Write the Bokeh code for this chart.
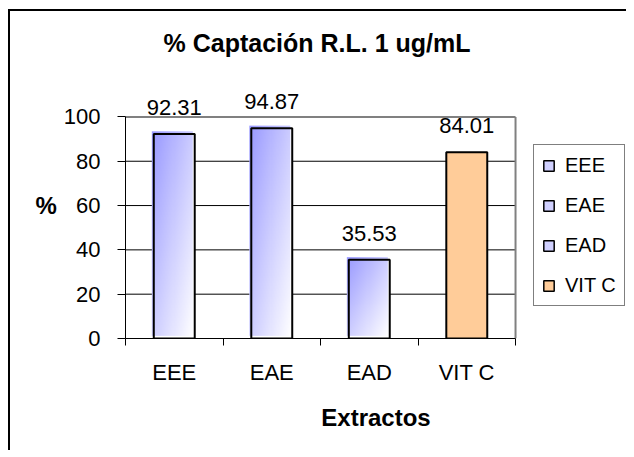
import numpy as np
from bokeh.plotting import figure
from bokeh.models import (ColumnDataSource, Range1d, FixedTicker, LabelSet,
                          Legend, LegendItem)
from bokeh.core.properties import value
from bokeh.embed import file_html
from bokeh.resources import INLINE

# ---------------- data ----------------
categories = ["EEE", "EAE", "EAD", "VIT C"]
values = [92.31, 94.87, 35.53, 84.01]
value_labels = ["92.31", "94.87", "35.53", "84.01"]
y_ticks = [0, 20, 40, 60, 80, 100]
grid_levels = [20, 40, 60, 80]
title_text = "% Captación R.L.  1 ug/mL"
x_title = "Extractos"
y_title = "%"
solid_series = ["VIT C"]

# ---------------- style ----------------
FONT = "Liberation Sans"
BAR_W = 0.42
SHIFT_X = 0.02     # gradient fill shifted left (~2px)
SHIFT_Y = 1.2      # gradient fill shifted up (~3px)
ORANGE = "#FFCC99"
LIGHT_BLUE = "#D0D0FF"
GRAY = "#808080"
X_VIEW_RIGHT = 5.138   # extra room right of the plot area for the legend
Y_VIEW_TOP = 120.5     # headroom above the plot area for the value labels

n = len(categories)
y_top = y_ticks[-1]
centers = [i + 0.5 for i in range(n)]
grad_idx = [i for i, c in enumerate(categories) if c not in solid_series]
solid_idx = [i for i, c in enumerate(categories) if c in solid_series]

p = figure(frame_width=501, frame_height=267,
           x_range=Range1d(0, X_VIEW_RIGHT), y_range=Range1d(0, Y_VIEW_TOP),
           output_backend="svg", toolbar_location=None,
           min_border_left=115, min_border_right=0,
           min_border_top=60, min_border_bottom=112,
           background_fill_color="white", border_fill_color="white")
p.styles = {"margin-left": "8px", "margin-top": "9px",
            "border-top": "2px solid black", "border-left": "2px solid black"}

# title
p.title.text = title_text
p.title.align = "left"
p.title.offset = 38
p.title.standoff = 30
p.title.text_font = FONT
p.title.text_font_size = "25px"
p.title.text_font_style = "bold"
p.title.text_color = "black"

# frame / grid: drawn only over the plot area (0..n, 0..100)
p.outline_line_color = None
p.xgrid.visible = False
p.ygrid.visible = False
p.segment(x0=[0] * len(grid_levels), y0=grid_levels,
          x1=[n] * len(grid_levels), y1=grid_levels,
          line_color="black", line_width=1)
p.segment(x0=[0, n], y0=[y_top, 0], x1=[n, n], y1=[y_top, y_top],
          line_color=GRAY, line_width=2)

# y axis
p.yaxis.ticker = FixedTicker(ticks=y_ticks)
p.yaxis.bounds = (0, y_top)
p.yaxis.major_tick_out = 8
p.yaxis.major_tick_in = 0
p.yaxis.minor_tick_line_color = None
p.yaxis.major_label_standoff = 17
p.yaxis.axis_label = y_title
p.yaxis.axis_label_orientation = "horizontal"
p.yaxis.axis_label_standoff = 4

# x axis
p.xaxis.ticker = FixedTicker(ticks=centers, minor_ticks=list(range(n + 1)))
p.xaxis.bounds = (0, n)
p.xaxis.major_label_overrides = {c: lab for c, lab in zip(centers, categories)}
p.xaxis.major_tick_out = 0
p.xaxis.major_tick_in = 0
p.xaxis.minor_tick_out = 7
p.xaxis.minor_tick_in = 0
p.xaxis.minor_tick_line_color = "black"
p.xaxis.major_label_standoff = 14
p.xaxis.axis_label = x_title
p.xaxis.axis_label_standoff = 16

for ax in (p.xaxis, p.yaxis):
    ax.axis_line_color = "black"
    ax.major_tick_line_color = "black"
    ax.major_label_text_font = FONT
    ax.major_label_text_font_size = "22px"
    ax.major_label_text_color = "black"
    ax.axis_label_text_font = FONT
    ax.axis_label_text_font_size = "24px"
    ax.axis_label_text_font_style = "bold"
    ax.axis_label_text_color = "black"

# gradient image (top-left blue -> bottom-right white)
gh, gw = 80, 40
u = np.linspace(0, 1, gw)[None, :]
v = np.linspace(0, 1, gh)[:, None]
t = np.clip((u + (1 - v)) / 2, 0, 1)
rg = np.round(153 + (255 - 153) * t).astype(np.uint32)
img = ((np.uint32(255) << 24) | (np.uint32(255) << 16) | (rg << 8) | rg).astype(np.uint32)

g_src = ColumnDataSource(dict(
    x=[centers[i] for i in grad_idx],
    top=[values[i] for i in grad_idx],
))
p.vbar(x="x", top="top", bottom=0, width=BAR_W, source=g_src,
       fill_color="white", line_color=None)
p.image_rgba(image=[img for _ in grad_idx],
             x=[centers[i] - BAR_W / 2 - SHIFT_X for i in grad_idx],
             y=[SHIFT_Y for _ in grad_idx],
             dw=[BAR_W for _ in grad_idx],
             dh=[values[i] for i in grad_idx])
p.vbar(x="x", top="top", bottom=0, width=BAR_W, source=g_src,
       fill_color=None, line_color="black", line_width=2)

s_src = ColumnDataSource(dict(
    x=[centers[i] for i in solid_idx],
    top=[values[i] for i in solid_idx],
))
p.vbar(x="x", top="top", bottom=0, width=BAR_W, source=s_src,
       fill_color=ORANGE, line_color="black", line_width=2)

# value labels
lab_src = ColumnDataSource(dict(x=centers, y=values, text=value_labels))
p.add_layout(LabelSet(x="x", y="y", text="text", source=lab_src,
                      y_offset=19, text_align="center",
                      text_baseline="alphabetic", text_font=value(FONT),
                      text_font_size=value("22px"), text_color="black"))

# legend: swatch glyphs from a zero-size quad per category (invisible in plot)
leg_src = ColumnDataSource(dict(
    x=centers,
    color=[ORANGE if c in solid_series else LIGHT_BLUE for c in categories],
))
leg_r = p.quad(left="x", right="x", top=0, bottom=0, source=leg_src,
               fill_color="color", line_color="black", line_width=1.5)
items = [LegendItem(label=c, renderers=[leg_r], index=i)
         for i, c in enumerate(categories)]
legend = Legend(items=items, location=(408, 32), orientation="vertical",
                border_line_color="black", border_line_width=1.5,
                background_fill_color="white", background_fill_alpha=1,
                padding=8, spacing=16, margin=0,
                label_height=24, glyph_height=13, glyph_width=13,
                label_standoff=10, label_text_font=FONT,
                label_text_font_size="20px", label_text_color="black")
p.add_layout(legend, "center")

open("out.html", "w").write(file_html(p, INLINE))
